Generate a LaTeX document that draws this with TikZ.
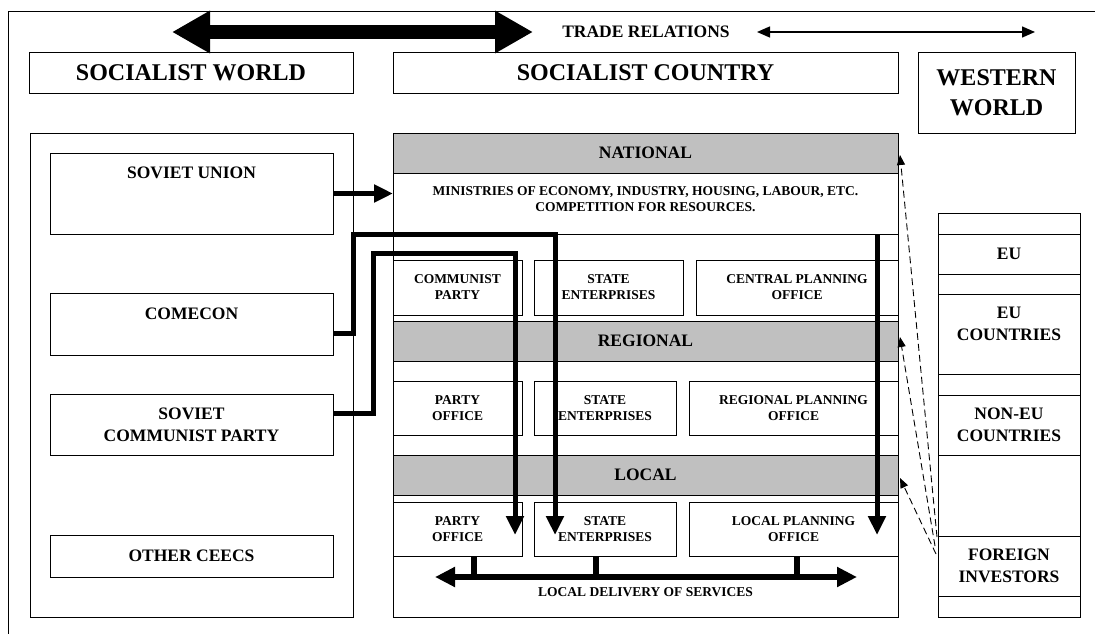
\documentclass[tikz,border=0pt]{standalone}
\usepackage{fontspec}
\setmainfont{Liberation Serif}
\usetikzlibrary{arrows.meta,calc}
\definecolor{band}{HTML}{C0C0C0}
\begin{document}
\begin{tikzpicture}[x=1pt,y=-1pt,
  box/.style={draw, line width=0.9pt, inner sep=0pt, outer sep=0pt},
  titletxt/.style={font=\fontsize{24}{30}\selectfont\bfseries, align=center},
  midtxt/.style={font=\fontsize{17.5}{22}\selectfont\bfseries, align=center},
  smalltxt/.style={font=\fontsize{13.5}{16}\selectfont\bfseries, align=center},
  thk/.style={line width=5pt, -{Triangle[length=19pt,width=17pt]}},
  stubline/.style={line width=6pt},
  dlv/.style={line width=6pt, {Triangle[length=20pt,width=19pt]}-{Triangle[length=20pt,width=19pt]}},
  dsh/.style={line width=0.9pt, dash pattern=on 7pt off 4pt, -{Triangle[length=10pt,width=8pt]}}
]
\useasboundingbox (0,0) rectangle (1095,634);
% outer frame
\draw[line width=0.9pt] (8,634) -- (8,11) -- (1095,11);

% top row
\coordinate (bigL) at (172,32);
\coordinate (bigR) at (533,32);
\draw[line width=14pt, {Triangle[length=38pt,width=40pt]}-{Triangle[length=38pt,width=40pt]}] (bigL) -- (bigR);
\node[midtxt] (trade) at (646,32) {TRADE RELATIONS};
\coordinate (trL) at (757,32);
\coordinate (trR) at (1035,32);
\draw[line width=1.4pt, {Triangle[length=13pt,width=11pt]}-{Triangle[length=13pt,width=11pt]}] (trL) -- (trR);

\node[box, titletxt, minimum width=324pt, minimum height=41pt] (sw) at (191,72.5) {SOCIALIST WORLD};
\node[box, titletxt, minimum width=505pt, minimum height=41pt] (sc) at (645.5,72.5) {SOCIALIST COUNTRY};
\node[box, titletxt, minimum width=157pt, minimum height=81pt] (ww) at (996.5,92.5) {WESTERN\\WORLD};

% left column
\node[box, minimum width=323pt, minimum height=484pt] (lbox) at (191.5,375) {};
\node[box, minimum width=283pt, minimum height=81pt] (su) at (191.5,193.5) {};
\node[midtxt] (sutext) at (191.5,173) {SOVIET UNION};
\node[box, minimum width=283pt, minimum height=62pt] (com) at (191.5,324) {};
\node[midtxt] (comtext) at (191.5,314) {COMECON};
\node[box, midtxt, minimum width=283pt, minimum height=61pt] (scp) at (191.5,424.5) {SOVIET\\COMMUNIST PARTY};
\node[box, midtxt, minimum width=283pt, minimum height=42pt] (oc) at (191.5,556) {OTHER CEECS};

% middle column
\node[box, minimum width=505pt, minimum height=484pt] (mbox) at (645.5,375) {};
\node[box, fill=band, midtxt, minimum width=505pt, minimum height=40pt] (nat) at (645.5,153) {NATIONAL};
\node[box, minimum width=505pt, minimum height=61pt] (min) at (645.5,203.5) {};
\node[smalltxt] (mintext) at (645.5,199) {MINISTRIES OF ECONOMY, INDUSTRY, HOUSING, LABOUR, ETC.\\COMPETITION FOR RESOURCES.};
\node[box, smalltxt, minimum width=129pt, minimum height=55pt] (cp) at (457.5,287.5) {COMMUNIST\\PARTY};
\node[box, smalltxt, minimum width=149pt, minimum height=55pt] (se1) at (608.5,287.5) {STATE\\ENTERPRISES};
\node[box, smalltxt, minimum width=202pt, minimum height=55pt] (cpo) at (797,287.5) {CENTRAL PLANNING\\OFFICE};
\node[box, fill=band, midtxt, minimum width=505pt, minimum height=40pt] (reg) at (645.5,341) {REGIONAL};
\node[box, smalltxt, minimum width=129pt, minimum height=54pt] (po2) at (457.5,408) {PARTY\\OFFICE};
\node[box, smalltxt, minimum width=142pt, minimum height=54pt] (se2) at (605,408) {STATE\\ENTERPRISES};
\node[box, smalltxt, minimum width=209pt, minimum height=54pt] (rpo) at (793.5,408) {REGIONAL PLANNING\\OFFICE};
\node[box, fill=band, midtxt, minimum width=505pt, minimum height=40pt] (loc) at (645.5,475) {LOCAL};
\node[box, smalltxt, minimum width=129pt, minimum height=54pt] (po3) at (457.5,529) {PARTY\\OFFICE};
\node[box, smalltxt, minimum width=142pt, minimum height=54pt] (se3) at (605,529) {STATE\\ENTERPRISES};
\node[box, smalltxt, minimum width=209pt, minimum height=54pt] (lpo) at (793.5,529) {LOCAL PLANNING\\OFFICE};
\node[smalltxt] (dlvtext) at (645.5,592) {LOCAL DELIVERY OF SERVICES};

% right column
\node[box, minimum width=142pt, minimum height=404pt] (rcol) at (1009,415) {};
\node[box, midtxt, minimum width=142pt, minimum height=40pt] (eu) at (1009,254) {EU};
\node[box, minimum width=142pt, minimum height=80pt] (euc) at (1009,334) {};
\node[midtxt] (euctext) at (1009,324) {EU\\COUNTRIES};
\node[box, midtxt, minimum width=142pt, minimum height=60pt] (neu) at (1009,425) {NON-EU\\COUNTRIES};
\node[box, midtxt, minimum width=142pt, minimum height=60pt] (fi) at (1009,566) {FOREIGN\\INVESTORS};

% thick connectors
\draw[thk] (su.east) -- (su.east -| mbox.west);
\coordinate (comA) at (353,234);
\coordinate (comB) at (555,535);
\draw[thk] ($(com.east)+(0,9)$) -| (comA) -| (comB);
\coordinate (scpA) at (373,253);
\coordinate (scpB) at (515,535);
\draw[thk] ($(scp.east)+(0,-11.5)$) -| (scpA) -| (scpB);
\coordinate (natA) at (877,234);
\coordinate (natB) at (877,535);
\draw[thk] (natA) -- (natB);

% local delivery
\coordinate (dl) at (435,577);
\coordinate (dr) at (857,577);
\draw[stubline] ($(po3.south)+(16.5,0)$) -- ++(0,21);
\draw[stubline] ($(se3.south)+(-9,0)$) -- ++(0,21);
\draw[stubline] ($(lpo.south)+(3.5,0)$) -- ++(0,21);
\draw[dlv] (dl) -- (dr);

% dashed links from foreign investors
\draw[dsh] ($(fi.north west)+(-1,1)$) -- ($(nat.east)+(2,2)$);
\draw[dsh] ($(fi.north west)+(-3,10)$) -- ($(reg.east)+(2,-4)$);
\draw[dsh] ($(fi.north west)+(-2,18)$) -- ($(loc.east)+(2,3)$);
\end{tikzpicture}
\end{document}
